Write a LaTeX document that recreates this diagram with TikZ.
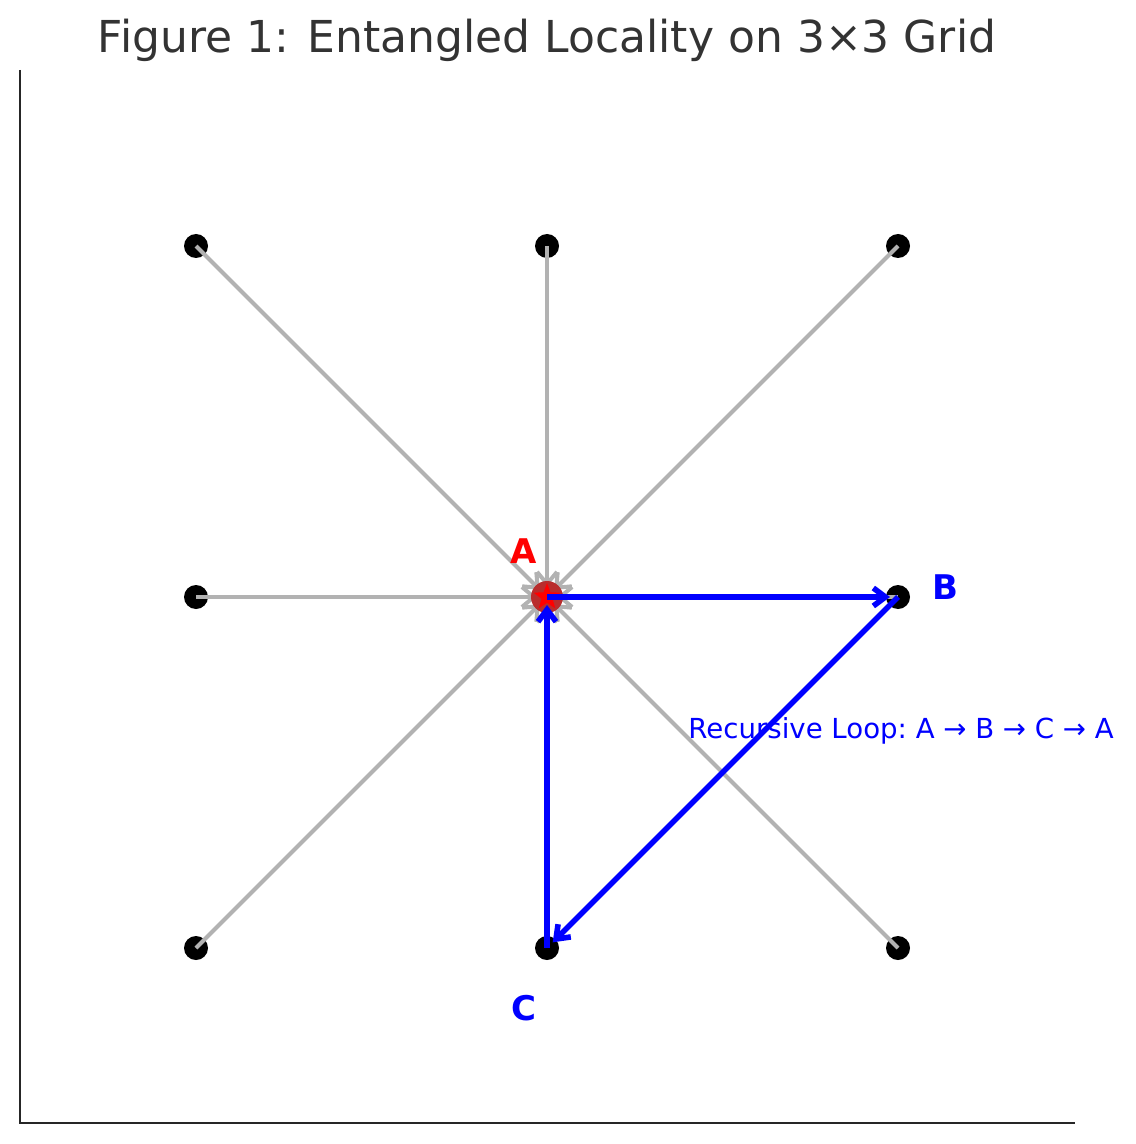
\documentclass[tikz,border=0pt]{standalone}
\usepackage{fontspec}
\setmainfont{DejaVu Sans}
\usetikzlibrary{arrows.meta,shapes.geometric}
\definecolor{hubred}{RGB}{185,45,45}
\begin{document}
\begin{tikzpicture}[x=0.5pt,y=-0.5pt,
    dot/.style={circle,fill=black,inner sep=0pt,minimum size=12pt},
    link/.style={-{Straight Barb[length=6pt,width=10pt]},black!30,line width=2pt,shorten >=5pt},
    loop/.style={-{Straight Barb[length=6pt,width=9pt]},blue,line width=2.8pt,shorten >=4pt},
    lbl/.style={font=\fontsize{17}{20}\selectfont\bfseries}]
    \useasboundingbox (0,0) rectangle (1135,1144);
    % axes
    \draw[black!85,line width=1.1pt] (20,70) -- (20,1123) -- (1075,1123) ;
    \node[text=black!80,font=\fontsize{22}{26}\selectfont] (title) at (547,40) {Figure 1: Entangled Locality on 3×3 Grid} ;
    % grid
    \node[dot] (nw) at (196,246) {} ;
    \node[dot] (n) at (547,246) {} ;
    \node[dot] (ne) at (898,246) {} ;
    \node[dot] (w) at (196,597) {} ;
    \coordinate (A) at (547,597) ;
    \node[dot] (B) at (898,597) {} ;
    \node[dot] (sw) at (196,948) {} ;
    \node[dot] (C) at (547,948) {} ;
    \node[dot] (se) at (898,948) {} ;
    \draw[link] (nw.center) -- (A) ;
    \draw[link] (n.center) -- (A) ;
    \draw[link] (ne.center) -- (A) ;
    \draw[link] (w.center) -- (A) ;
    \draw[link] (B.center) -- (A) ;
    \draw[link] (sw.center) -- (A) ;
    \draw[link] (C.center) -- (A) ;
    \draw[link] (se.center) -- (A) ;
    \node[circle,fill=hubred,inner sep=0pt,minimum size=16pt] (hub) at (A) {} ;
    \node[star,star points=5,star point ratio=2.4,fill=red,inner sep=0pt,minimum size=14pt] (hub_star) at (A) {} ;
    % loop
    \draw[loop] (A) -- (B.center) ;
    \draw[loop] (B.center) -- (C.center) ;
    \draw[loop] (C.center) -- (A) ;
    \node[lbl,text=red] (A_label) at (524,551) {A} ;
    \node[lbl,text=blue] (B_label) at (945,587) {B} ;
    \node[lbl,text=blue] (C_label) at (524,1008) {C} ;
    \node[anchor=west,text=blue,inner sep=0pt,font=\fontsize{13.8}{17}\selectfont] (loop_label) at (688,731) {\frenchspacing Recursive Loop: A → B → C → A} ;
\end{tikzpicture}
\end{document}
